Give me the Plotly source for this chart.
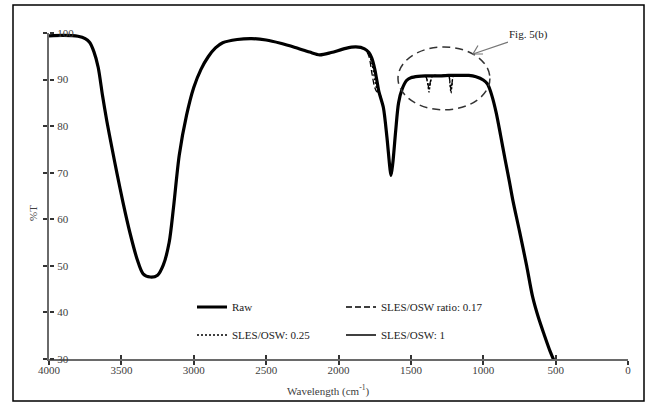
import plotly.graph_objects as go

# ---------------- data ----------------
WN = [4000, 3900, 3800, 3750, 3720, 3690, 3660, 3630, 3600, 3565,
      3530, 3490, 3440, 3390, 3350, 3300, 3250, 3210, 3170, 3140,
      3100, 3050, 3000, 2950, 2900, 2850, 2800, 2700, 2600, 2500,
      2400, 2300, 2200, 2130, 2050, 1950, 1880, 1820, 1790, 1770,
      1750, 1735, 1720, 1690, 1665, 1645, 1637, 1625, 1605, 1585,
      1560, 1530, 1500, 1450, 1400, 1385, 1375, 1365, 1350, 1300,
      1240, 1230, 1223, 1215, 1205, 1150, 1100, 1050, 1000, 970,
      940, 910, 880, 850, 820, 795, 750, 700, 660, 620,
      580, 540, 505]

RAW = [99.4, 99.5, 99.3, 98.8, 98.0, 96.0, 92.6, 86.5, 81.0, 75.3,
       69.8, 63.8, 57.0, 51.3, 48.3, 47.6, 48.0, 50.2, 55.0, 62.5,
       73.8, 82.3, 88.3, 92.2, 94.9, 96.8, 97.9, 98.6, 98.8, 98.5,
       97.8, 96.9, 95.9, 95.3, 95.8, 96.7, 97.0, 96.6, 95.8, 94.6,
       92.3, 89.8, 87.3, 84.0, 77.5, 71.0, 69.4, 72.0, 79.0, 85.0,
       88.0, 89.8, 90.4, 90.7, 90.8, 90.8, 90.8, 90.8, 90.8, 90.8,
       90.9, 90.9, 90.9, 90.9, 90.9, 90.9, 90.9, 90.6, 89.9, 89.0,
       86.5, 82.8, 78.0, 73.0, 68.2, 64.0, 57.5, 50.0, 43.5, 39.0,
       35.3, 31.8, 29.2]

S017 = [99.4, 99.5, 99.3, 98.8, 98.0, 96.0, 92.6, 86.5, 81.0, 75.3,
        69.8, 63.8, 57.0, 51.3, 48.3, 47.6, 48.0, 50.2, 55.0, 62.5,
        73.8, 82.3, 88.3, 92.2, 94.9, 96.8, 97.9, 98.6, 98.8, 98.5,
        97.8, 96.9, 95.9, 95.3, 95.8, 96.7, 97.0, 96.6, 95.0, 91.5,
        88.3, 87.4, 87.3, 84.0, 77.5, 71.0, 69.4, 72.0, 79.0, 85.0,
        88.0, 89.8, 90.4, 90.7, 90.8, 89.6, 88.0, 89.6, 90.8, 90.8,
        90.9, 89.4, 87.8, 89.4, 90.9, 90.9, 90.9, 90.6, 89.9, 89.0,
        86.5, 82.8, 78.0, 73.0, 68.2, 64.0, 57.5, 50.0, 43.5, 39.0,
        35.3, 31.8, 29.2]

S025 = [99.4, 99.5, 99.3, 98.8, 98.0, 96.0, 92.6, 86.5, 81.0, 75.3,
        69.8, 63.8, 57.0, 51.3, 48.3, 47.6, 48.0, 50.2, 55.0, 62.5,
        73.8, 82.3, 88.3, 92.2, 94.9, 96.8, 97.9, 98.6, 98.8, 98.5,
        97.8, 96.9, 95.9, 95.3, 95.8, 96.7, 97.0, 96.6, 95.4, 93.5,
        90.0, 88.0, 87.3, 84.0, 77.5, 71.0, 69.4, 72.0, 79.0, 85.0,
        88.0, 89.8, 90.4, 90.7, 90.8, 89.3, 87.3, 89.3, 90.8, 90.8,
        90.9, 89.0, 87.1, 89.0, 90.9, 90.9, 90.9, 90.6, 89.9, 89.0,
        86.5, 82.8, 78.0, 73.0, 68.2, 64.0, 57.5, 50.0, 43.5, 39.0,
        35.3, 31.8, 29.2]

S1 = [99.4, 99.5, 99.3, 98.8, 98.0, 96.0, 92.6, 86.5, 81.0, 75.3,
      69.8, 63.8, 57.0, 51.3, 48.3, 47.6, 48.0, 50.2, 55.0, 62.5,
      73.8, 82.3, 88.3, 92.2, 94.9, 96.8, 97.9, 98.6, 98.8, 98.5,
      97.8, 96.9, 95.9, 95.3, 95.8, 96.7, 97.0, 96.6, 95.8, 94.6,
      92.3, 89.8, 87.3, 84.0, 77.5, 71.0, 69.4, 72.0, 79.0, 85.0,
      88.0, 89.8, 90.4, 90.7, 90.8, 90.8, 90.8, 90.8, 90.8, 90.8,
      90.9, 90.9, 90.9, 90.9, 90.9, 90.9, 90.9, 90.6, 89.9, 89.0,
      86.5, 82.8, 78.0, 73.0, 68.2, 64.0, 57.5, 50.0, 43.5, 39.0,
      35.3, 31.8, 29.2]

NAMES = ["Raw", "SLES/OSW ratio: 0.17", "SLES/OSW: 0.25", "SLES/OSW: 1"]
X_TICKS = [4000, 3500, 3000, 2500, 2000, 1500, 1000, 500, 0]
Y_TICKS = [30, 40, 50, 60, 70, 80, 90, 100]
ELLIPSE_X = [1589, 954]
ELLIPSE_Y = [83.5, 97.0]
ARROW_HEAD = [1071, 95.5]

# ---------------- layout geometry ----------------
W, H = 649, 405
ML, MR, MT, MB = 49, 21, 33, 46
PW, PH = W - ML - MR, H - MT - MB
FONT = "Liberation Serif"


def px(xp):
    return (xp - ML) / PW


def py(yp):
    return (H - MB - yp) / PH


fig = go.Figure()
styles = [
    dict(color="black", width=3.2),
    dict(color="black", width=1.3, dash="6px,3px"),
    dict(color="black", width=1.3, dash="2px,2px"),
    dict(color="black", width=1.3),
]
series = [RAW, S017, S025, S1]
legends = ["legend", "legend", "legend2", "legend2"]
for name, ys, st, lg in zip(NAMES, series, styles, legends):
    fig.add_trace(go.Scatter(x=WN, y=ys, mode="lines", name=name,
                             line=dict(shape="spline", smoothing=0.8, **st),
                             legend=lg, hoverinfo="skip"))

# dummy trace for the second (inner tick / label) axes
fig.add_trace(go.Scatter(x=[None], y=[None], xaxis="x2", yaxis="y2",
                         showlegend=False, hoverinfo="skip"))

axis_color = "#6a6a6a"
tick_color = "#333"
tickfont = dict(family=FONT, size=11, color="#404040")
fig.update_layout(
    width=W, height=H,
    margin=dict(l=ML, r=MR, t=MT, b=MB),
    paper_bgcolor="white", plot_bgcolor="white",
    font=dict(family=FONT, size=11, color="#222"),
    xaxis=dict(range=[4000, 0], tickvals=X_TICKS, showgrid=False, zeroline=False,
               showline=True, linecolor=axis_color, linewidth=2,
               ticks="outside", ticklen=4, tickwidth=1.5, tickcolor=tick_color,
               ticklabelstandoff=-4, tickfont=tickfont),
    yaxis=dict(range=[30, 100], tickvals=Y_TICKS, showgrid=False, zeroline=False,
               showline=True, linecolor=axis_color, linewidth=2,
               ticks="outside", ticklen=4, tickwidth=1.5, tickcolor=tick_color,
               showticklabels=False),
    xaxis2=dict(range=[4000, 0], tickvals=X_TICKS, overlaying="x", anchor="y",
                showgrid=False, zeroline=False, showline=False,
                ticks="inside", ticklen=4, tickwidth=1.5, tickcolor=tick_color,
                showticklabels=False),
    yaxis2=dict(range=[30, 100], tickvals=Y_TICKS, overlaying="y", side="right",
                anchor="free", position=0,
                showgrid=False, zeroline=False, showline=False,
                ticks="outside", ticklen=4, tickwidth=1.5, tickcolor=tick_color,
                ticklabelstandoff=1, tickfont=tickfont),
    legend=dict(orientation="h", x=px(192), y=py(307), xanchor="left", yanchor="middle",
                entrywidth=104, bgcolor="rgba(0,0,0,0)",
                font=dict(family=FONT, size=11, color="#222")),
    legend2=dict(orientation="h", x=px(192), y=py(335), xanchor="left", yanchor="middle",
                 entrywidth=104, bgcolor="rgba(0,0,0,0)",
                 font=dict(family=FONT, size=11, color="#222")),
    showlegend=True,
)

# outer frame
fig.add_shape(type="rect", xref="paper", yref="paper",
              x0=px(13), x1=px(644), y0=py(401), y1=py(5),
              line=dict(color="black", width=1.5), fillcolor="rgba(0,0,0,0)")

# dashed ellipse around the Fig. 5(b) region
fig.add_shape(type="circle", xref="x", yref="y",
              x0=ELLIPSE_X[0], x1=ELLIPSE_X[1], y0=ELLIPSE_Y[0], y1=ELLIPSE_Y[1],
              line=dict(color="#333", width=1.5, dash="8px,5px"))

# arrow and label
fig.add_annotation(x=ARROW_HEAD[0], y=ARROW_HEAD[1], xref="x", yref="y",
                   text="Fig. 5(b)", showarrow=True, arrowhead=0,
                   arrowcolor="#777", arrowwidth=1.2, ax=56, ay=-19,
                   font=dict(family=FONT, size=11, color="#222"))
fig.add_shape(type="path", xref="paper", yref="paper",
              path="M {:.4f},{:.4f} L {:.4f},{:.4f} L {:.4f},{:.4f}".format(
                  px(483), py(54), px(473), py(54), px(478), py(45.5)),
              line=dict(color="#777", width=1.2))

# axis titles
fig.add_annotation(x=px(328), y=py(400), xref="paper", yref="paper",
                   text="Wavelength (cm<sup>-1</sup>)", showarrow=False,
                   font=dict(family=FONT, size=11, color="#404040"))
fig.add_annotation(x=px(25), y=py(213), xref="paper", yref="paper",
                   text="%T", textangle=-90, showarrow=False,
                   font=dict(family=FONT, size=11, color="#404040"))

fig.write_html("out.html")
